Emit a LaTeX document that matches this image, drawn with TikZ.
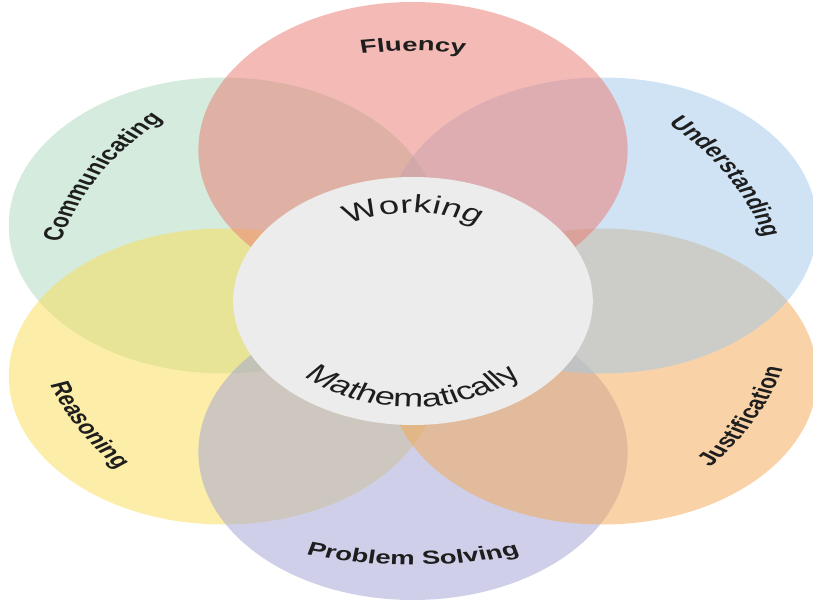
\documentclass[tikz,border=0pt]{standalone}
\usepackage{fontspec}
\setmainfont{Liberation Sans}
\usetikzlibrary{decorations.text}

\definecolor{fluencycol}{RGB}{235,121,111}
\definecolor{commcol}{RGB}{171,217,189}
\definecolor{understcol}{RGB}{161,201,235}
\definecolor{reasoncol}{RGB}{251,223,85}
\definecolor{justifcol}{RGB}{245,169,81}
\definecolor{problemcol}{RGB}{161,161,213}
\definecolor{centrecol}{RGB}{236,236,236}
\definecolor{inkcol}{RGB}{30,30,30}

\newcommand{\petalfont}{\fontsize{13.5}{16}\selectfont\bfseries}
\newcommand{\centrefont}{\fontsize{17.8}{20}\selectfont}

\tikzset{
    petal/.style={fill=#1, fill opacity=0.5},
    petallabel/.style={decorate, decoration={text along path, text align=center,
        text color=inkcol, text={|\petalfont|#1}}},
    centrelabel/.style={decorate, decoration={text along path, text align=center,
        text color=inkcol, text={|\centrefont|#1}}}
}

\begin{document}
\begin{tikzpicture}[x=0.025cm, y=0.025cm]
    \path[use as bounding box, fill=white] (-413,-303) rectangle (400,301);

    \begin{scope}[transform canvas={xscale=1.45}]
        % petals
        \fill[petal=commcol]    (150:151) circle[radius=148];
        \fill[petal=reasoncol]  (210:151) circle[radius=148];
        \fill[petal=problemcol] (270:151) circle[radius=148];
        \fill[petal=justifcol]  (330:151) circle[radius=148];
        \fill[petal=understcol] (30:151)  circle[radius=148];
        \fill[petal=fluencycol] (90:151)  circle[radius=148];

        % centre
        \fill[centrecol] (0,0) circle[radius=124];

        % petal labels
        \path[petallabel=Fluency]         (130:250) arc[start angle=130, end angle=50, radius=250];
        \path[petallabel=Understanding]   (70:250)  arc[start angle=70, end angle=-10, radius=250];
        \path[petallabel=Communicating]   (190:250) arc[start angle=190, end angle=110, radius=250];
        \path[petallabel=Reasoning]       (169:264) arc[start angle=169, end angle=249, radius=264];
        \path[petallabel=Justification]   (293:264) arc[start angle=293, end angle=373, radius=264];
        \path[petallabel=Problem Solving] (230:264) arc[start angle=230, end angle=310, radius=264];

        % centre labels
        \path[centrelabel=Working]        (150:88)  arc[start angle=150, end angle=30, radius=88];
        \path[centrelabel=Mathematically] (190:106) arc[start angle=190, end angle=350, radius=106];
    \end{scope}
\end{tikzpicture}
\end{document}
